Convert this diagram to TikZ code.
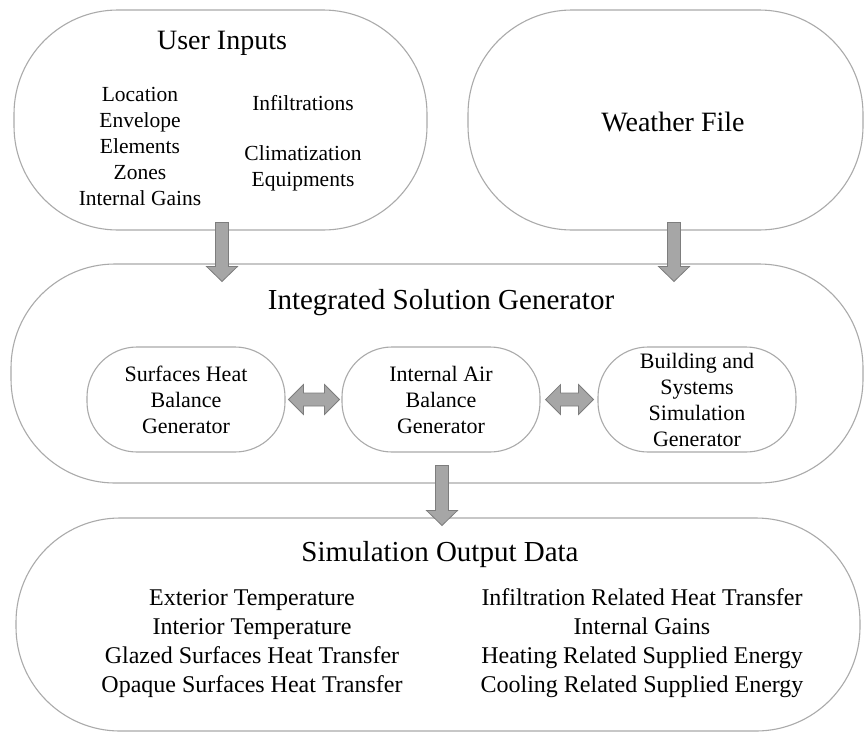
\documentclass[tikz,border=0pt]{standalone}
\usepackage{fontspec}
\setmainfont{Liberation Serif}
\usetikzlibrary{calc}
\definecolor{boxline}{RGB}{170,170,170}
\definecolor{arrfill}{RGB}{166,166,166}
\definecolor{arrline}{RGB}{125,125,125}
\newcommand\fs[2]{\fontsize{#1}{#2}\selectfont}
\newcommand\downblock[2]{%
  \filldraw[blockarrow] let \p1=#1, \p2=#2 in
   (\x1-6.5pt,\y1) -- (\x1+6.5pt,\y1) -- (\x1+6.5pt,\y2+15pt) -- (\x1+15.5pt,\y2+15pt)
   -- (\x1,\y2) -- (\x1-15.5pt,\y2+15pt) -- (\x1-6.5pt,\y2+15pt) -- cycle;}
\newcommand\dblblock[2]{%
  \filldraw[blockarrow] let \p1=#1, \p2=#2 in
   (\x1,\y1) -- (\x1+15pt,\y1+15pt) -- (\x1+15pt,\y1+6.5pt) -- (\x2-15pt,\y1+6.5pt)
   -- (\x2-15pt,\y1+15pt) -- (\x2,\y1) -- (\x2-15pt,\y1-15pt) -- (\x2-15pt,\y1-6.5pt)
   -- (\x1+15pt,\y1-6.5pt) -- (\x1+15pt,\y1-15pt) -- cycle;}
\tikzset{
  bigbox/.style={draw=boxline, line width=1.1pt, rectangle, rounded corners=104pt, inner sep=0pt},
  smallbox/.style={draw=boxline, line width=1.1pt, rectangle, rounded corners=50pt, inner sep=0pt,
     minimum width=198pt, minimum height=105pt},
  blockarrow/.style={fill=arrfill, draw=arrline, line width=0.8pt, line join=miter},
  title/.style={inner sep=0pt, font=\fs{28}{32}},
  body/.style={inner sep=0pt, align=center, font=\fs{21.5}{25.8}},
  sbody/.style={inner sep=0pt, align=center, font=\fs{22}{26}},
  obody/.style={inner sep=0pt, align=center, font=\fs{24}{29}},
}
\begin{document}
\begin{tikzpicture}[x=1pt,y=-1pt]
\useasboundingbox[fill=white] (0,0) rectangle (864,734);
% main boxes
\node[bigbox, minimum width=413pt, minimum height=220pt] (ui) at (220.5,120) {};
\node[bigbox, minimum width=395pt, minimum height=220pt] (wf) at (665.5,120) {};
\node[bigbox, minimum width=852pt, minimum height=219pt] (isg) at (437,373.5) {};
\node[bigbox, minimum width=844pt, minimum height=213pt] (sod) at (438,624.5) {};
% inner boxes
\node[smallbox] (shb) at (186,399.5) {};
\node[smallbox] (iab) at (441,399.5) {};
\node[smallbox] (bss) at (697,399.5) {};
% texts
\node[title] (uit) at (222,43) {User Inputs};
\node[body] (uil) at (140,146.5) {Location\\Envelope\\Elements\\Zones\\Internal Gains};
\node[body] (uir1) at (303,103) {Infiltrations};
\node[body] (uir2) at (303,168.5) {Climatization\\Equipments};
\node[title] (wft) at (673,122) {Weather File};
\node[title, font=\fs{29}{33}] (isgt) at (441,303) {Integrated Solution Generator};
\node[sbody] (shbt) at (shb) {Surfaces Heat\\Balance\\Generator};
\node[sbody] (iabt) at (iab) {Internal Air\\Balance\\Generator};
\node[sbody] (bsst) at (bss) {Building and\\Systems\\Simulation\\Generator};
\node[title, font=\fs{29}{33}] (sodt) at (440,555) {Simulation Output Data};
\node[obody] (sodl) at (252,643.5) {Exterior Temperature\\Interior Temperature\\Glazed Surfaces Heat Transfer\\Opaque Surfaces Heat Transfer};
\node[obody] (sodr) at (642,643.5) {Infiltration Related Heat Transfer\\Internal Gains\\Heating Related Supplied Energy\\Cooling Related Supplied Energy};
% arrows
\downblock{([xshift=1.5pt,yshift=8pt]ui.south)}{([xshift=1.5pt,yshift=-18pt]ui.south |- isg.north)}
\downblock{([xshift=8.5pt,yshift=8pt]wf.south)}{([xshift=8.5pt,yshift=-18pt]wf.south |- isg.north)}
\downblock{([xshift=5pt,yshift=18pt]isg.south)}{([xshift=5pt,yshift=-8pt]isg.south |- sod.north)}
\dblblock{([xshift=3pt]shb.east)}{([xshift=-2pt]iab.west)}
\dblblock{([xshift=5pt]iab.east)}{([xshift=-4pt]bss.west)}
\end{tikzpicture}
\end{document}
